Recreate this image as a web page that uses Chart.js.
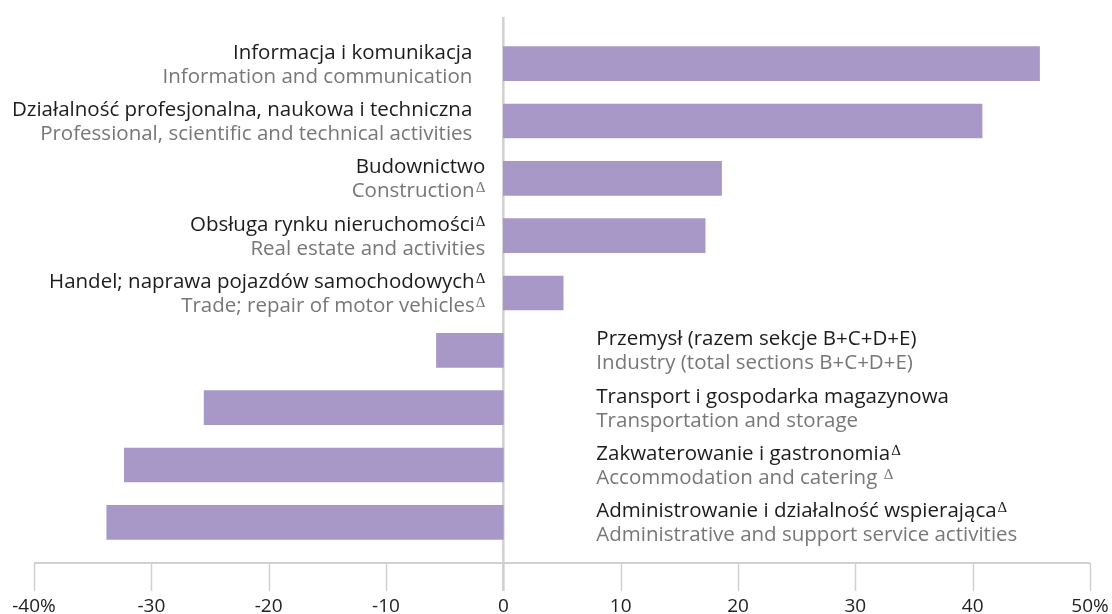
<!DOCTYPE html>
<html>
<head>
<meta charset="utf-8">
<script src="https://cdn.jsdelivr.net/npm/chart.js@4"></script>
<style>
  html, body { margin: 0; padding: 0; background: #fff; }
  #wrap { width: 1112px; height: 614px; }
</style>
</head>
<body>
<div id="wrap"><canvas id="chart"></canvas></div>
<script>
// sections (Polish / English), change in %
const polishLabels = [
  "Informacja i komunikacja",
  "Działalność profesjonalna, naukowa i techniczna",
  "Budownictwo",
  "Obsługa rynku nieruchomości",
  "Handel; naprawa pojazdów samochodowych",
  "Przemysł (razem sekcje B+C+D+E)",
  "Transport i gospodarka magazynowa",
  "Zakwaterowanie i gastronomia",
  "Administrowanie i działalność wspierająca"
]
const englishLabels = [
  "Information and communication",
  "Professional, scientific and technical activities",
  "Construction",
  "Real estate and activities",
  "Trade; repair of motor vehicles",
  "Industry (total sections B+C+D+E)",
  "Transportation and storage",
  "Accommodation and catering ",
  "Administrative and support service activities"
]
// which lines carry the Δ mark
const polishDelta = [false, false, false, true, true, false, false, true, true]
const englishDelta = [false, false, true, false, true, false, false, true, false]
const values = [45.7, 40.8, 18.6, 17.2, 5.1, -5.7, -25.5, -32.3, -33.8]
const tickLabels = { "-40": "-40%", "50": "50%" }

const FONT = "'Open Sans', 'DejaVu Sans', sans-serif"
const LABEL_FONT = "20.5px " + FONT
const DELTA_FONT = "15px 'Liberation Serif', 'DejaVu Serif', serif"
const DARK = "#1c1c1c"
const GREY = "#777777"

const axisLines = {
  id: "axisLines",
  beforeDatasetsDraw(chart) {
    const { ctx, chartArea, scales: { x } } = chart
    const axisY = chartArea.bottom + 12
    const x0 = x.getPixelForValue(0)
    ctx.save()
    ctx.strokeStyle = "#d0d0d0"
    ctx.lineWidth = 2
    ctx.beginPath()
    ctx.moveTo(x.left, axisY)
    ctx.lineTo(x.right, axisY)
    ctx.stroke()
    ctx.lineWidth = 1.5
    x.ticks.forEach(t => {
      const px = Math.round(x.getPixelForValue(t.value)) + 0.5
      ctx.beginPath()
      ctx.moveTo(px, axisY)
      ctx.lineTo(px, axisY + 28)
      ctx.stroke()
    })
    ctx.lineWidth = 2.5
    ctx.beginPath()
    ctx.moveTo(x0, chartArea.top - 18)
    ctx.lineTo(x0, axisY + 28)
    ctx.stroke()
    ctx.restore()
  }
}

function drawLine(ctx, text, delta, x, y, align, color) {
  ctx.font = LABEL_FONT
  const w = ctx.measureText(text).width
  ctx.font = DELTA_FONT
  const dw = delta ? ctx.measureText("Δ").width + 1 : 0
  const left = align === "right" ? x - w - dw : x
  ctx.fillStyle = color
  ctx.textAlign = "left"
  ctx.textBaseline = "alphabetic"
  ctx.font = LABEL_FONT
  ctx.fillText(text, left, y)
  if (delta) {
    ctx.font = DELTA_FONT
    ctx.fillText("Δ", left + w + 1, y - 5)
  }
}

const rowLabels = {
  id: "rowLabels",
  afterDatasetsDraw(chart) {
    const { ctx, scales: { x, y } } = chart
    const x0 = x.getPixelForValue(0)
    ctx.save()
    values.forEach((v, i) => {
      const yc = y.getPixelForValue(i)
      if (v >= 0) {
        const right = x0 - (v > 30 ? 31 : 18)
        drawLine(ctx, polishLabels[i], polishDelta[i], right, yc - 5, "right", DARK)
        drawLine(ctx, englishLabels[i], englishDelta[i], right, yc + 19, "right", GREY)
      } else {
        const left = x0 + 93
        drawLine(ctx, polishLabels[i], polishDelta[i], left, yc - 5, "left", DARK)
        drawLine(ctx, englishLabels[i], englishDelta[i], left, yc + 19, "left", GREY)
      }
    })
    ctx.restore()
  }
}

new Chart(document.getElementById("chart"), {
  type: "bar",
  data: {
    labels: polishLabels,
    datasets: [{
      data: values,
      backgroundColor: "#a898c7",
      borderWidth: 0,
      barThickness: 34
    }]
  },
  options: {
    indexAxis: "y",
    responsive: true,
    maintainAspectRatio: false,
    animation: false,
    layout: { padding: { left: 34, right: 22, top: 35, bottom: 0 } },
    plugins: {
      legend: { display: false },
      tooltip: { enabled: false }
    },
    scales: {
      x: {
        min: -40,
        max: 50,
        afterFit: (scale) => {
          scale.height = 63
          scale.paddingLeft = 0
          scale.paddingRight = 0
        },
        grid: { display: false, drawTicks: false },
        border: { display: false },
        ticks: {
          stepSize: 10,
          padding: 44,
          color: "#222",
          font: { family: FONT, size: 19 },
          callback: (value) => tickLabels[value] || String(value)
        }
      },
      y: {
        display: false
      }
    }
  },
  plugins: [axisLines, rowLabels]
})
</script>
</body>
</html>
